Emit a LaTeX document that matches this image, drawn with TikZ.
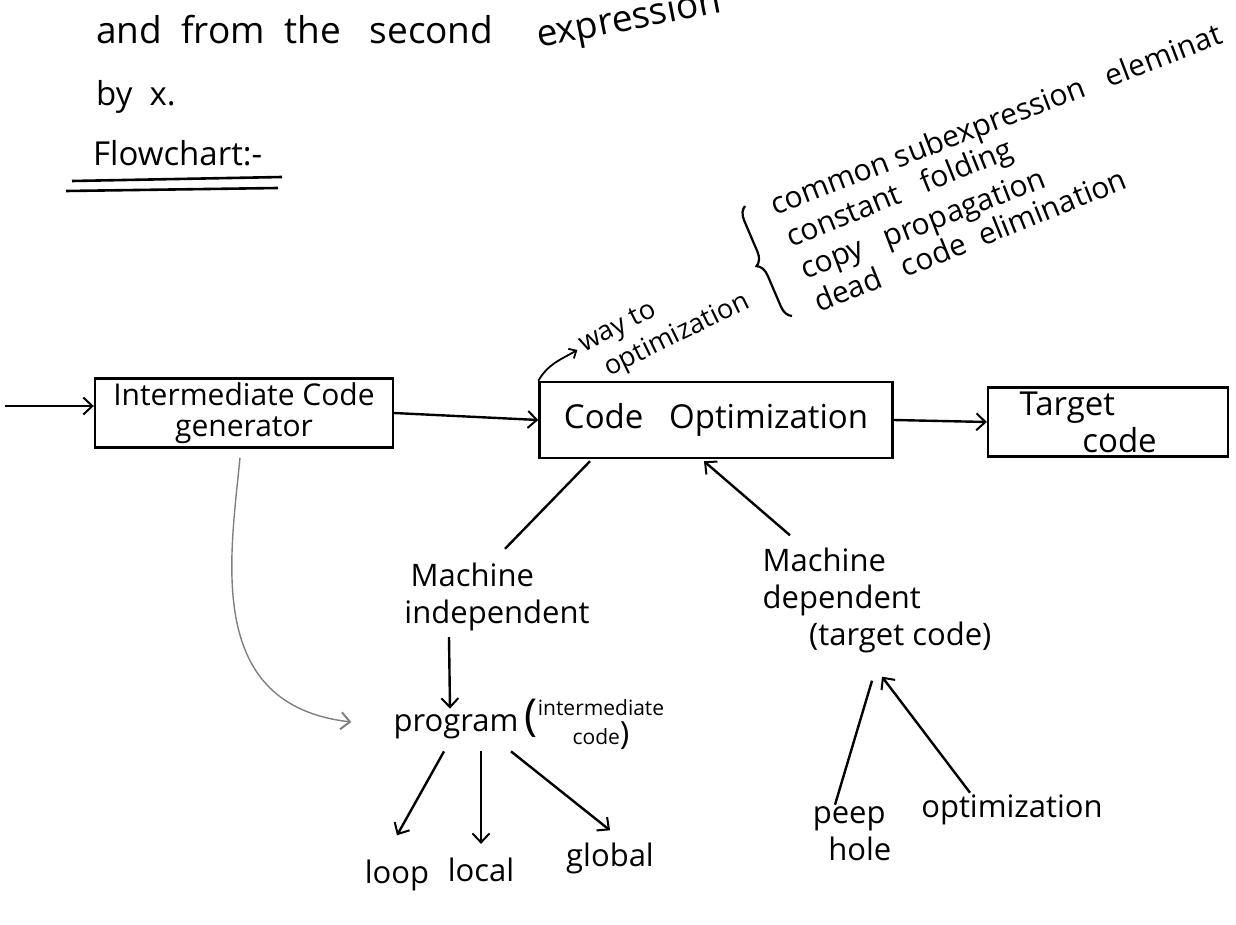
\documentclass[tikz,border=0pt]{standalone}
\usepackage{fontspec}
\setmainfont{Open Sans}
\usetikzlibrary{arrows.meta,calc,decorations.pathreplacing}

\begin{document}
\begin{tikzpicture}[x=1pt,y=-1pt,line width=2.4pt,
  prosefont/.style={font=\fontsize{37}{40}\selectfont},
  big/.style={font=\fontsize{33}{37}\selectfont},
  mid/.style={font=\fontsize{31}{37}\selectfont},
  boxfont/.style={font=\fontsize{30}{31}\selectfont},
  listfont/.style={font=\fontsize{30}{33}\selectfont},
  small/.style={font=\fontsize{27}{29}\selectfont},
  stagebox/.style={draw,align=center,inner sep=4pt},
  lbl/.style={inner sep=1pt,align=left},
  tip/.style={-{Straight Barb[length=9pt,width=17pt,line width=2pt]}},
  smalltip/.style={-{Straight Barb[length=6pt,width=11pt,line width=1.8pt]}}]
\useasboundingbox (0,0) rectangle (1236,925);
\clip (0,0) rectangle (1236,925);

% running prose above the chart
\node[prosefont,anchor=base west,inner sep=0] (prose) at (95,44) {and\ \ from\ \ the\ \ \ second};
\node[prosefont,anchor=base west,inner sep=0,rotate=11] (prose2) at (538,48) {expression};
\node[big,anchor=base west,inner sep=0] (byx) at (95,106) {by\ \ x.};
\node[big,anchor=base west,inner sep=0] (title) at (92,166) {Flowchart:-};
\draw[line width=2.6pt] (72,181) -- (282,177);
\draw[line width=2.6pt] (66,191) -- (278,188);

% main pipeline
\coordinate (src) at (5,406);
\node[stagebox,boxfont,minimum width=298,minimum height=67] (icg) at (244,413) {Intermediate Code\\generator};
\node[stagebox,big,minimum width=353,minimum height=76] (opt) at (716,420) {Code\ \ \ Optimization};
\node[stagebox,big,minimum width=240,minimum height=59,align=left] (tgt) at (1108,422) {Target\\\hspace*{1.9em}code\hspace*{1.2em}};

\draw[tip] (src) -- (icg.west |- src);
\draw[tip] (icg.east) -- (opt.west);
\draw[tip] (opt.east) -- (tgt.west);

% ways to optimization
\node[small,anchor=base west,inner sep=0,rotate=27] (way) at (583,353) {way to};
\node[small,anchor=base west,inner sep=0,rotate=26] (wayopt) at (608,377) {optimization};
\draw[smalltip,line width=1.8pt] (opt.north west) to[out=60,in=210] ($(way.west)+(-3,2)$);

\coordinate (brb) at (792,316);
\coordinate (brt) at (745,206);
\draw[line width=2.2pt,decorate,decoration={brace,amplitude=13pt}] (brb) -- (brt);
\node[listfont,anchor=base west,inner sep=0,rotate=21] (cse) at (774,216) {common\ subexpression\ \ \ eleminat};
\node[listfont,anchor=base west,inner sep=0,rotate=22] (cf) at (790,248) {constant\ \ \ folding};
\node[listfont,anchor=base west,inner sep=0,rotate=21] (cp) at (804,280) {copy\ \ \ propagation};
\node[listfont,anchor=base west,inner sep=0,rotate=22] (dce) at (818,313) {dead\ \ \ code\ \ elimination};

% machine independent branch
\node[mid,lbl] (mi) at (497,597) {\hspace*{0.2em}Machine\\independent};
\node[mid,lbl] (md) at (877,600) {Machine\\dependent\\\hspace*{1.5em}(target code)};
\draw ($(mi.north)+(8,-12)$) -- ($(opt.south)+(-126,2)$);
\draw[tip] ($(md.north)+(-87,-10)$) -- ($(opt.south)+(-12,2)$);

\node[mid,lbl] (prog) at (456,727) {program};
\node[lbl,anchor=west] (ic) at ($(prog.east)+(2,-2)$) {{\fontsize{44}{44}\selectfont(}\fontsize{21}{22}\selectfont
  \begin{tabular}[c]{@{}c@{}}intermediate\\code{\fontsize{32}{32}\selectfont)}\end{tabular}};
\draw[tip] ($(mi.south)+(-48,4)$) -- ($(prog.north)+(-6,-4)$);
\draw[tip,gray,line width=1.4pt] ($(icg.south)+(-4,9)$) .. controls (230,560) and (205,705) .. ($(prog.west)+(-40,-5)$);

\node[mid,lbl] (loop) at (397,875) {loop};
\node[mid,lbl] (local) at (481,870) {local};
\node[mid,lbl] (global) at (610,858) {global};
\draw[tip] ($(prog.south)+(-12,10)$) -- ($(loop.north)+(0,-22)$);
\draw[tip] ($(prog.south)+(25,10)$) -- ($(local.north)+(0,-12)$);
\draw[tip] ($(prog.south)+(55,10)$) -- ($(global.north)+(0,-10)$);

% machine dependent branch
\node[mid,lbl] (ph) at (852,834) {peep\\\hspace*{0.5em}hole};
\node[mid,lbl] (po) at (1012,810) {optimization};
\draw ($(ph.north)+(-17,0)$) -- ($(md.south)+(-5,26)$);
\draw[tip] ($(po.north)+(-42,0)$) -- ($(md.south)+(5,22)$);
\end{tikzpicture}
\end{document}
